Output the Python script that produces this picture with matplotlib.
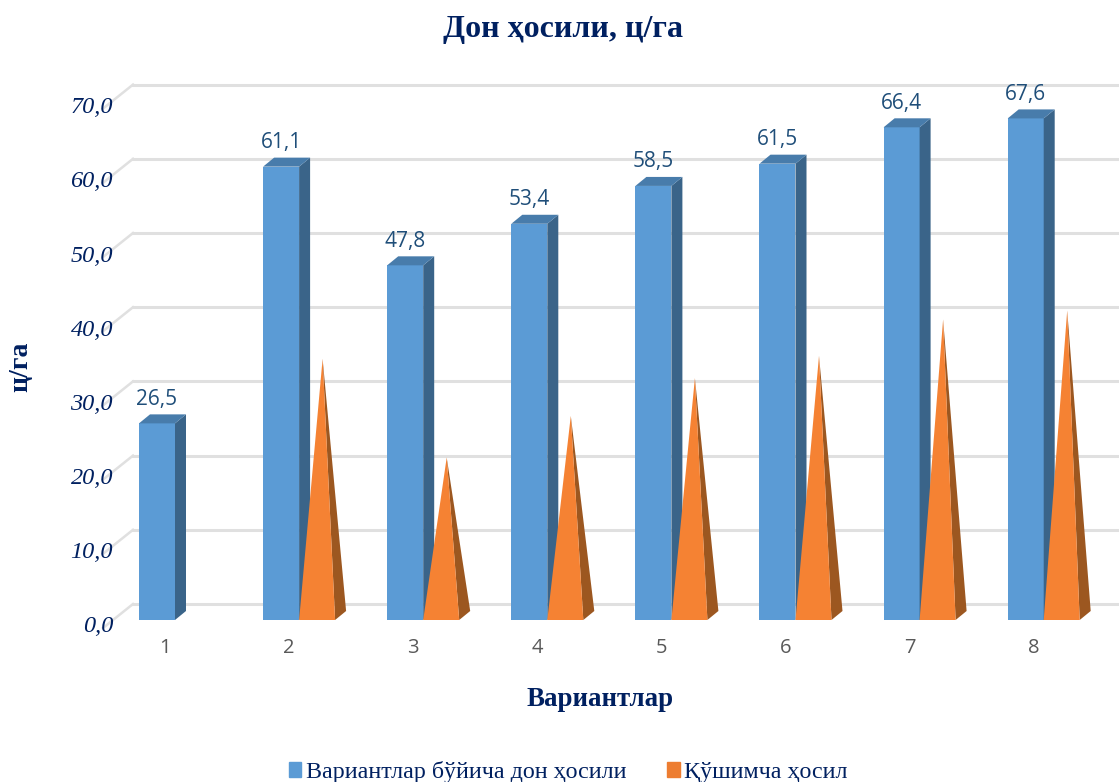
import matplotlib
matplotlib.use("Agg")
import matplotlib.pyplot as plt
from matplotlib.patches import Patch

plt.rcParams['font.family'] = ['Liberation Serif', 'DejaVu Serif']

categories = [1, 2, 3, 4, 5, 6, 7, 8]
grain_yield = [26.5, 61.1, 47.8, 53.4, 58.5, 61.5, 66.4, 67.6]
extra_yield = [None, 34.6, 21.3, 26.9, 32.0, 35.0, 39.9, 41.1]
y_ticks = [0, 10, 20, 30, 40, 50, 60, 70]

navy = '#002060'
blue = '#5B9BD5'
blue_side = '#3A6489'
blue_top = '#487CAB'
orange = '#F58233'
orange_side = '#9C5720'
grid_col = '#E0E0E0'

# scale of the picture: pixels for one category / one unit of yield
px_x = 124.1
px_y = 7.42
fig_w, fig_h = 1119, 782
x0_px, y0_px = 157, 620


def dx(p):
    return p / px_x


def dy(p):
    return p / px_y


fig = plt.figure(figsize=(fig_w / 100, fig_h / 100), dpi=100)
ax = fig.add_axes([0, 0, 1, 1])
ax.set_xlim(1 - dx(x0_px), 1 + dx(fig_w - x0_px))
ax.set_ylim(-dy(fig_h - y0_px), dy(y0_px))
ax.axis('off')

# back wall grid with the short floor/side diagonals
wall_x0 = 1 + dx(103 - x0_px)
wall_x1 = 1 + dx(133 - x0_px)
for v in y_ticks:
    ax.plot([wall_x1, ax.get_xlim()[1]], [v + dy(16), v + dy(16)], color=grid_col, lw=2.2, zorder=1)
    ax.plot([wall_x0, wall_x1], [v - dy(8), v + dy(16)], color=grid_col, lw=1.8, zorder=1)
    ax.text(1 + dx(113 - x0_px), v - dy(7), f'{v:.1f}'.replace('.', ','), ha='right', va='center',
            fontsize=17.5, style='italic', color=navy)

w = dx(36)
side_x = dx(11)
side_y = dy(9)

ax.bar(categories, grain_yield, width=w, color=blue, zorder=3)
for c, v in zip(categories, grain_yield):
    right = c + w / 2
    left = c - w / 2
    ax.fill([right, right + side_x, right + side_x, right],
            [0, side_y, v + side_y, v], color=blue_side, lw=0, zorder=3)
    ax.fill([left, right, right + side_x, left + side_x],
            [v, v, v + side_y, v + side_y], color=blue_top, lw=0, zorder=3)
    ax.text(c, v + dy(24), f'{v:.1f}'.replace('.', ','), ha='center', va='center',
            fontsize=15, color='#1F4E79', family='Open Sans', zorder=5)

for c, v in zip(categories, extra_yield):
    if v is None:
        continue
    left = c + w / 2
    right = left + w
    apex_x = (left + right) / 2 + side_x / 2
    apex_y = v + side_y / 2
    ax.fill([right, right + side_x, apex_x], [0, side_y, apex_y], color=orange_side, lw=0, zorder=4)
    ax.fill([left, right, apex_x], [0, 0, apex_y], color=orange, lw=0, zorder=4)

for c in categories:
    ax.text(c + dx(8), -dy(28), str(c), ha='center', va='center', fontsize=14.5,
            color='#595959', family='Open Sans')

ax.text(563 / fig_w, 1 - 30 / fig_h, 'Дон ҳосили, ц/га', transform=ax.transAxes, ha='center', va='center',
        fontsize=23, fontweight='bold', color=navy)
ax.text(600 / fig_w, 1 - 699 / fig_h, 'Вариантлар', transform=ax.transAxes, ha='center', va='center',
        fontsize=19.4, fontweight='bold', color=navy)
ax.text(21 / fig_w, 1 - 367 / fig_h, 'ц/га', transform=ax.transAxes, ha='center', va='center',
        rotation=90, fontsize=20, fontweight='bold', color=navy)

handles = [Patch(color=blue, label='Вариантлар бўйича дон ҳосили'),
           Patch(color='#ED7D31', label='Қўшимча ҳосил')]
ax.legend(handles=handles, ncol=2, loc='center', bbox_to_anchor=(568 / fig_w, 1 - 772 / fig_h),
          frameon=False, fontsize=17.3, labelcolor=navy, handlelength=0.54, handleheight=0.54,
          handletextpad=0.17, columnspacing=1.7)

fig.savefig('out.png', dpi=100)
